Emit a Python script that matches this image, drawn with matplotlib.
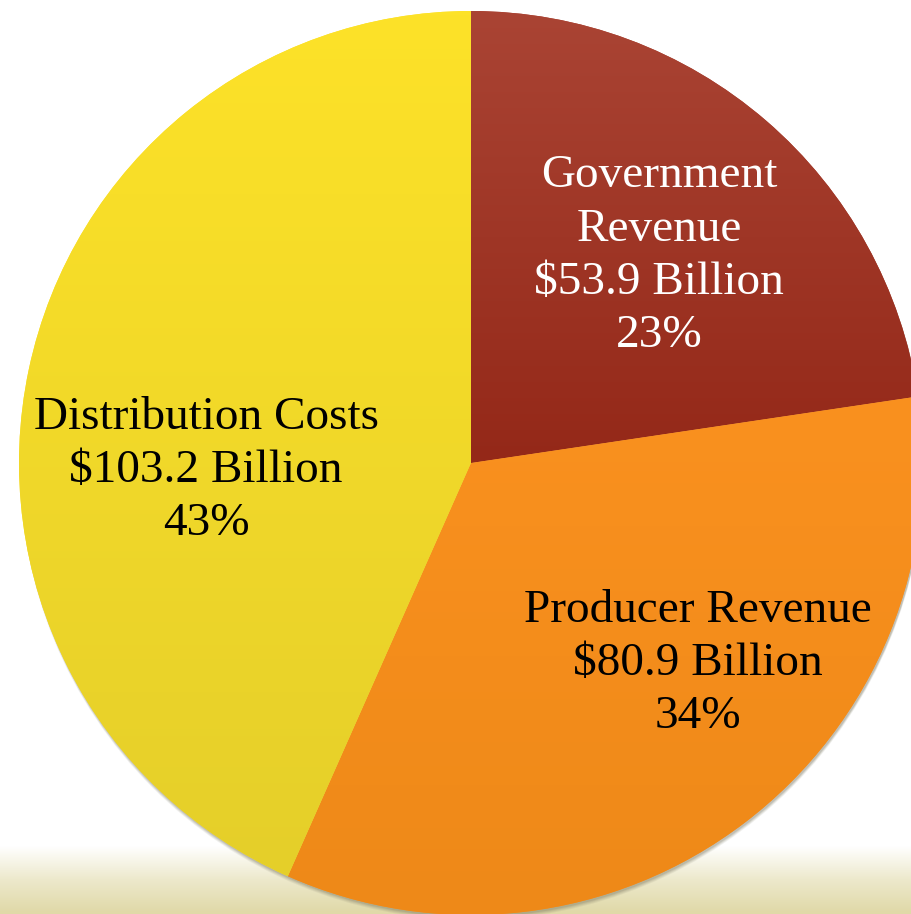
import numpy as np
import matplotlib
matplotlib.use("Agg")
import matplotlib.pyplot as plt
from matplotlib.colors import LinearSegmentedColormap
from matplotlib.patches import Circle

# ---- data ----
categories = ["Government\nRevenue", "Producer Revenue", "Distribution Costs"]
values = [53.9, 80.9, 103.2]          # $ billions
pct_labels = ["23%", "34%", "43%"]

# ---- style / layout ----
top_colors = ["#AA4434", "#FA911F", "#FDE228"]
bottom_colors = ["#942818", "#EE8918", "#E5CF2A"]
text_colors = ["white", "black", "black"]
W, H = 911, 914
cx, cy, R = 471, H - 463, 452
label_pos = [(659, H - 256), (698, H - 664), (206, H - 471)]
fs = 34

fig = plt.figure(figsize=(W / 100, H / 100), dpi=100)
ax = fig.add_axes([0, 0, 1, 1])
ax.set_xlim(0, W)
ax.set_ylim(0, H)
ax.axis("off")

# background: white with beige gradient at bottom
ys = np.linspace(0, 1, 300)  # 0 at bottom
bg_cmap = LinearSegmentedColormap.from_list("bg", ["#E0D9A8", "#EDE9CC", "#FFFFFF", "#FFFFFF"],
                                            N=256)
grad = np.clip(ys / (100 / H), 0, 1)
ax.imshow(grad[:, None], extent=[0, W, 0, H], origin="lower", cmap=bg_cmap,
          aspect="auto", interpolation="bilinear", zorder=0, vmin=0, vmax=1)

# subtle shadow
for off, a in [(5, 0.10), (4, 0.12), (3, 0.15), (2, 0.2)]:
    ax.add_patch(Circle((cx + 1, cy - off), R, color="#7a7660", alpha=a, lw=0, zorder=1))

wedges, _ = ax.pie(values, startangle=90, counterclock=False, center=(cx, cy), radius=R,
                   colors=top_colors, wedgeprops=dict(linewidth=0), frame=True)
ax.set_xlim(0, W)
ax.set_ylim(0, H)
ax.set_aspect("equal")
ax.axis("off")

for w, c0, c1 in zip(wedges, top_colors, bottom_colors):
    w.set_zorder(2)
    bb = w.get_path().get_extents(w.get_patch_transform())
    y0, y1 = bb.y0, bb.y1
    cmap = LinearSegmentedColormap.from_list("g", [c1, c0])
    g = np.linspace(0, 1, 256)[:, None]
    im = ax.imshow(g, extent=[bb.x0, bb.x1, y0, y1], origin="lower", cmap=cmap,
                   aspect="auto", interpolation="bilinear", zorder=3)
    im.set_clip_path(w)

for cat, v, p, pos, tc in zip(categories, values, pct_labels, label_pos, text_colors):
    ax.text(pos[0], pos[1], f"{cat}\n${v:.1f} Billion\n{p}", ha="center", va="center",
            color=tc, fontsize=fs, family="Liberation Serif", linespacing=1.33, zorder=5)

fig.savefig("out.png", dpi=100)
